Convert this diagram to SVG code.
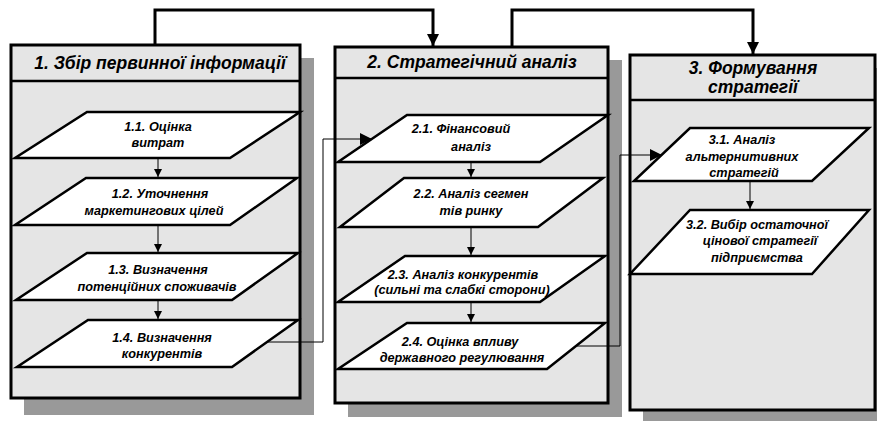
<svg xmlns="http://www.w3.org/2000/svg" width="877" height="421" viewBox="0 0 877 421">
  <defs>
    <marker id="bigArrow" viewBox="0 0 12 12" refX="12" refY="6" markerWidth="12" markerHeight="12" markerUnits="userSpaceOnUse" orient="auto">
      <path d="M0,0 L12,6 L0,12 Z" fill="#000"/>
    </marker>
    <marker id="smallArrow" viewBox="0 0 8 8" refX="8" refY="4" markerWidth="8" markerHeight="8" markerUnits="userSpaceOnUse" orient="auto">
      <path d="M0,0 L8,4 L0,8 Z" fill="#000"/>
    </marker>
  </defs>
  <style>
    .shadow { fill: #999999; }
    .panel { fill: #e5e5e5; stroke: #000; stroke-width: 3; }
    .divider { stroke: #000; stroke-width: 2.5; }
    .step { fill: #ffffff; stroke: #000; stroke-width: 2.5; stroke-linejoin: miter; }
    .head { font-family: "Liberation Sans", Arial, sans-serif; font-weight: bold; font-style: italic; font-size: 17.5px; text-anchor: middle; fill: #000; }
    .lbl { font-family: "Liberation Sans", Arial, sans-serif; font-weight: bold; font-style: italic; font-size: 12.7px; text-anchor: middle; fill: #000; }
    .thick { fill: none; stroke: #000; stroke-width: 3; }
    .thin { fill: none; stroke: #000; stroke-width: 1; }
  </style>
  <rect width="877" height="421" fill="#ffffff"/>

  <!-- column 1 -->
  <g id="panel1">
    <rect class="shadow" x="24" y="58" width="290" height="357"/>
    <rect class="panel" x="11" y="45" width="289" height="353"/>
    <line class="divider" x1="11" y1="81" x2="300" y2="81"/>
    <text class="head" x="160" y="69">1. Збір первинної інформації</text>
  </g>
  <g id="n1_1">
    <polygon class="step" points="87,112 300,112 230,158 15,158"/>
    <text class="lbl" x="158" y="131">1.1. Оцінка</text>
    <text class="lbl" x="158" y="147">витрат</text>
  </g>
  <g id="n1_2">
    <polygon class="step" points="86,178 297,178 230,225 15,225"/>
    <text class="lbl" x="160" y="198">1.2. Уточнення</text>
    <text class="lbl" x="154" y="215">маркетингових цілей</text>
  </g>
  <g id="n1_3">
    <polygon class="step" points="87,253 298,253 232,300 16,300"/>
    <text class="lbl" x="158" y="274">1.3. Визначення</text>
    <text class="lbl" x="157" y="291">потенційних споживачів</text>
  </g>
  <g id="n1_4">
    <polygon class="step" points="88,320 298,320 232,367 17,367"/>
    <text class="lbl" x="162" y="342">1.4. Визначення</text>
    <text class="lbl" x="162" y="358">конкурентів</text>
  </g>

  <!-- column 2 -->
  <g id="panel2">
    <rect class="shadow" x="348" y="60" width="274" height="357"/>
    <rect class="panel" x="335" y="47" width="273" height="356"/>
    <line class="divider" x1="335" y1="78" x2="608" y2="78"/>
    <text class="head" x="472" y="68">2. Стратегічний аналіз</text>
  </g>
  <g id="n2_1">
    <polygon class="step" points="407,115 608,115 540,162 338,162"/>
    <text class="lbl" x="461" y="133">2.1. Фінансовий</text>
    <text class="lbl" x="471" y="151">аналіз</text>
  </g>
  <g id="n2_2">
    <polygon class="step" points="404,178 603,178 538,227 340,227"/>
    <text class="lbl" x="471" y="198">2.2. Аналіз сегмен</text>
    <text class="lbl" x="471" y="215">тів ринку</text>
  </g>
  <g id="n2_3">
    <polygon class="step" points="405,256 605,256 540,302 338,302"/>
    <text class="lbl" x="463" y="279">2.3. Аналіз конкурентів</text>
    <text class="lbl" x="462" y="294">(сильні та слабкі сторони)</text>
  </g>
  <g id="n2_4">
    <polygon class="step" points="407,323 605,323 547,369 338,369"/>
    <text class="lbl" x="460" y="346">2.4. Оцінка впливу</text>
    <text class="lbl" x="462" y="362">державного регулювання</text>
  </g>

  <!-- column 3 -->
  <g id="panel3">
    <rect class="shadow" x="643" y="68" width="234" height="353"/>
    <rect class="panel" x="630" y="55" width="245" height="355"/>
    <line class="divider" x1="630" y1="100" x2="875" y2="100"/>
    <text class="head" x="753" y="74">3. Формування</text>
    <text class="head" x="753" y="93">стратегії</text>
  </g>
  <g id="n3_1">
    <polygon class="step" points="690,128 869,128 812,181 634,181"/>
    <text class="lbl" x="742" y="144">3.1. Аналіз</text>
    <text class="lbl" x="742" y="161">альтернитивних</text>
    <text class="lbl" x="744" y="177">стратегій</text>
  </g>
  <g id="n3_2">
    <polygon class="step" points="690,210 869,210 812,274 630,274"/>
    <text class="lbl" x="757" y="229">3.2. Вибір остаточної</text>
    <text class="lbl" x="760" y="245">цінової стратегії</text>
    <text class="lbl" x="757" y="262">підприємства</text>
  </g>

  <!-- connectors -->
  <g id="connectors">
    <polyline class="thick" points="155,45 155,10 433,10 433,46" marker-end="url(#bigArrow)"/>
    <polyline class="thick" points="512,47 512,10 753,10 753,54" marker-end="url(#bigArrow)"/>
    <line class="thin" x1="158" y1="158" x2="158" y2="177" marker-end="url(#smallArrow)"/>
    <line class="thin" x1="158" y1="225" x2="158" y2="252" marker-end="url(#smallArrow)"/>
    <line class="thin" x1="158" y1="300" x2="158" y2="319" marker-end="url(#smallArrow)"/>
    <line class="thin" x1="471" y1="162" x2="471" y2="177" marker-end="url(#smallArrow)"/>
    <line class="thin" x1="471" y1="227" x2="471" y2="255" marker-end="url(#smallArrow)"/>
    <line class="thin" x1="471" y1="302" x2="471" y2="322" marker-end="url(#smallArrow)"/>
    <line class="thin" x1="750" y1="181" x2="750" y2="209" marker-end="url(#smallArrow)"/>
    <polyline class="thin" points="267,342 323,342 323,139 372,139" marker-end="url(#bigArrow)"/>
    <polyline class="thin" points="577,346 620,346 620,155 662,155" marker-end="url(#bigArrow)"/>
  </g>
</svg>
